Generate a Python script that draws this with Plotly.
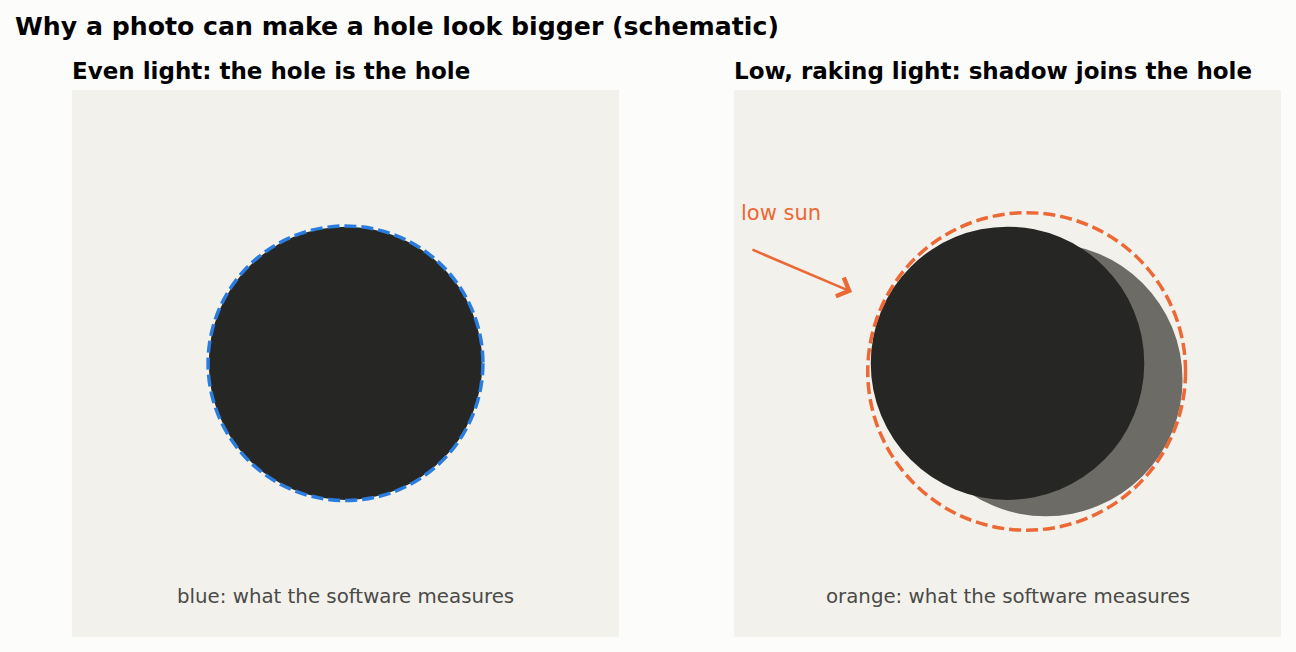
import plotly.graph_objects as go

# ---- data (schematic units, hole radius = 1) ----
panel_titles = ["Even light: the hole is the hole", "Low, raking light: shadow joins the hole"]
main_title = "Why a photo can make a hole look bigger (schematic)"
captions = ["blue: what the software measures", "orange: what the software measures"]

hole_center = [0.0, 0.0]
hole_radius = 1.0
shadow_center = [0.28, -0.12]
shadow_radius = 1.0
measured_left_center = [0.0, 0.0]
measured_left_radius = 1.005
measured_right_center = [0.14, -0.06]
measured_right_radius = 1.162

sun_label = "low sun"
sun_label_pos = [-1.962, 1.10]
sun_arrow_tail = [-1.876, 0.836]
sun_arrow_head = [-1.137, 0.521]
caption_y = -1.705

# ---- style ----
BG = "#fcfcfa"
PANEL = "#f2f1ec"
HOLE = "#262624"
SHADOW = "#6c6b66"
BLUE = "#2a7ddf"
ORANGE = "#ec6835"
CAPTION = "#4a4a47"
FONT = "DejaVu Sans"

W, H = 1296, 652
fig = go.Figure()

def xdom(px0, px1):
    return [px0 / W, px1 / W]

ydom = [(H - 636.5) / H, (H - 90) / H]

axis_common = dict(range=[-2, 2], showgrid=False, zeroline=False, showticklabels=False,
                   ticks="", showline=False, fixedrange=True)
fig.update_layout(
    xaxis=dict(domain=xdom(72, 619), **axis_common),
    yaxis=dict(domain=ydom, **axis_common),
    xaxis2=dict(domain=xdom(734, 1281), **axis_common),
    yaxis2=dict(domain=ydom, **axis_common),
)

# invisible traces so both subplots exist
fig.add_trace(go.Scatter(x=[hole_center[0]], y=[hole_center[1]], mode="markers",
                         marker=dict(opacity=0), xaxis="x", yaxis="y", hoverinfo="skip", showlegend=False))
fig.add_trace(go.Scatter(x=[hole_center[0]], y=[hole_center[1]], mode="markers",
                         marker=dict(opacity=0), xaxis="x2", yaxis="y2", hoverinfo="skip", showlegend=False))

shapes = []
# panel backgrounds
for xr, yr in (("x", "y"), ("x2", "y2")):
    shapes.append(dict(type="rect", xref=xr + " domain", yref=yr + " domain", x0=0, x1=1, y0=0, y1=1,
                       fillcolor=PANEL, line=dict(width=0), layer="below"))

def circle(xr, yr, c, r, **kw):
    return dict(type="circle", xref=xr, yref=yr, x0=c[0] - r, x1=c[0] + r, y0=c[1] - r, y1=c[1] + r, **kw)

# left panel
shapes.append(circle("x", "y", hole_center, hole_radius, fillcolor=HOLE, line=dict(width=0)))
shapes.append(circle("x", "y", measured_left_center, measured_left_radius,
                     fillcolor="rgba(0,0,0,0)", line=dict(color=BLUE, width=3.5, dash="12px,5px")))
# right panel
shapes.append(circle("x2", "y2", shadow_center, shadow_radius, fillcolor=SHADOW, line=dict(width=0)))
shapes.append(circle("x2", "y2", hole_center, hole_radius, fillcolor=HOLE, line=dict(width=0)))
shapes.append(circle("x2", "y2", measured_right_center, measured_right_radius,
                     fillcolor="rgba(0,0,0,0)", line=dict(color=ORANGE, width=3.5, dash="12px,5px")))

annotations = [
    dict(text="<b>" + main_title + "</b>", xref="paper", yref="paper", x=13 / W, y=(H - 26.5) / H,
         xanchor="left", yanchor="middle", showarrow=False, font=dict(family=FONT, size=25.2, color="#000")),
    dict(text="<b>" + panel_titles[0] + "</b>", xref="paper", yref="paper", x=70 / W, y=(H - 71) / H,
         xanchor="left", yanchor="middle", showarrow=False, font=dict(family=FONT, size=23, color="#000")),
    dict(text="<b>" + panel_titles[1] + "</b>", xref="paper", yref="paper", x=732 / W, y=(H - 71) / H,
         xanchor="left", yanchor="middle", showarrow=False, font=dict(family=FONT, size=23, color="#000")),
    dict(text=captions[0], xref="x", yref="y", x=0, y=caption_y, xanchor="center", yanchor="middle",
         showarrow=False, font=dict(family=FONT, size=19.8, color=CAPTION)),
    dict(text=captions[1], xref="x2", yref="y2", x=0, y=caption_y, xanchor="center", yanchor="middle",
         showarrow=False, font=dict(family=FONT, size=19.8, color=CAPTION)),
    dict(text=sun_label, xref="x2", yref="y2", x=sun_label_pos[0], y=sun_label_pos[1],
         xanchor="left", yanchor="middle", showarrow=False, font=dict(family=FONT, size=21, color=ORANGE)),
    dict(text="", xref="x2", yref="y2", x=sun_arrow_head[0], y=sun_arrow_head[1],
         axref="x2", ayref="y2", ax=sun_arrow_tail[0], ay=sun_arrow_tail[1],
         showarrow=True, arrowhead=4, arrowsize=1.5, arrowwidth=2.6, arrowcolor=ORANGE, standoff=0),
]

fig.update_layout(
    width=W, height=H,
    margin=dict(l=0, r=0, t=0, b=0),
    paper_bgcolor=BG, plot_bgcolor=PANEL,
    shapes=shapes, annotations=annotations, showlegend=False,
)

fig.write_html("out.html", config={"displayModeBar": False},
               post_script="document.body.style.margin='0';document.body.style.background='" + BG + "';")
